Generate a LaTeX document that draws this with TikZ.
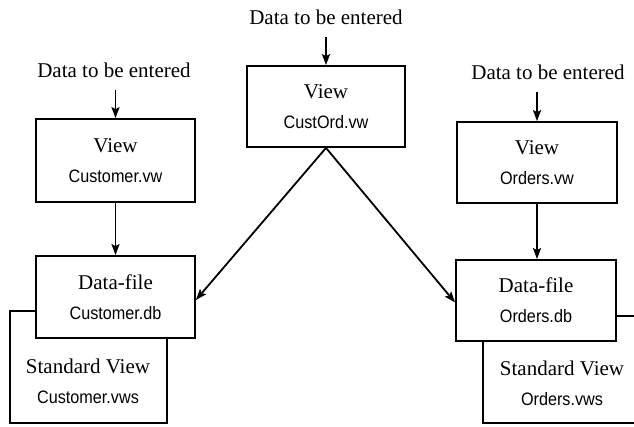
\documentclass[tikz,border=0pt]{standalone}
\usepackage{fontspec}
\setmainfont{Liberation Serif}
\newfontfamily\filefont[FakeStretch=0.9]{Liberation Sans}
\usetikzlibrary{arrows.meta}

\newcommand{\kind}[1]{{\fontsize{21}{30}\selectfont #1}}
\newcommand{\fname}[1]{{\filefont\fontsize{18}{30}\selectfont #1}}

\tikzset{
  box/.style={draw,line width=1.8pt,fill=white,align=center,inner sep=0pt,
    font=\fontsize{21}{30}\selectfont},
  boxtext/.style={align=center,inner sep=0pt,font=\fontsize{21}{30}\selectfont},
  entry/.style={inner sep=0pt,font=\fontsize{21}{24}\selectfont},
  arr/.style={line width=1.8pt,-{Stealth[length=11pt,width=8pt,inset=2pt]}}
}

\begin{document}
\begin{tikzpicture}[x=1pt,y=-1pt]
    \useasboundingbox (0,0) rectangle (634,426);

    % standard views, partly hidden behind the data files
    \node [box,minimum width=157,minimum height=112] (custstd) at (88.5,367) {};
    \node [box,minimum width=158,minimum height=107] (ordstd) at (562,369.5) {};
    \node [boxtext] (custstdtxt) at (88,381) {\kind{Standard View}\\\fname{Customer.vws}};
    \node [boxtext] (ordstdtxt) at (562,383) {\kind{Standard View}\\\fname{Orders.vws}};

    % views
    \node [box,minimum width=159,minimum height=83] (custview) at (115.5,160.5) {\kind{View}\\\fname{Customer.vw}};
    \node [box,minimum width=158,minimum height=81] (cordview) at (326,106.5) {\kind{View}\\\fname{CustOrd.vw}};
    \node [box,minimum width=160,minimum height=81] (ordview) at (537,162.5) {\kind{View}\\\fname{Orders.vw}};

    % data files
    \node [box,minimum width=159,minimum height=82] (custdata) at (115.5,297) {\kind{Data-file}\\\fname{Customer.db}};
    \node [box,minimum width=160,minimum height=81] (orddata) at (536,300.5) {\kind{Data-file}\\\fname{Orders.db}};

    % input labels
    \node [entry] (custin) at (114,70) {Data to be entered};
    \node [entry] (cordin) at (326,17) {Data to be entered};
    \node [entry] (ordin) at (548,72) {Data to be entered};
    \coordinate (custfrom) at ([yshift=-12pt]custin.south);
    \coordinate (cordfrom) at ([yshift=-12pt]cordin.south);
    \coordinate (ordfrom) at ([yshift=-12pt]ordin.south);

    \draw [arr] (custfrom -| custview.north) -- (custview.north);
    \draw [arr] (cordfrom -| cordview.north) -- (cordview.north);
    \draw [arr] (ordfrom -| ordview.north) -- (ordview.north);

    \draw [arr] (custview.south) -- (custdata.north);
    \draw [arr] (ordview.south) -- (orddata.north -| ordview.south);
    \draw [arr] (cordview.south) -- ([yshift=-3pt]custdata.east);
    \draw [arr] (cordview.south) -- ([yshift=-2pt]orddata.west);
\end{tikzpicture}
\end{document}
